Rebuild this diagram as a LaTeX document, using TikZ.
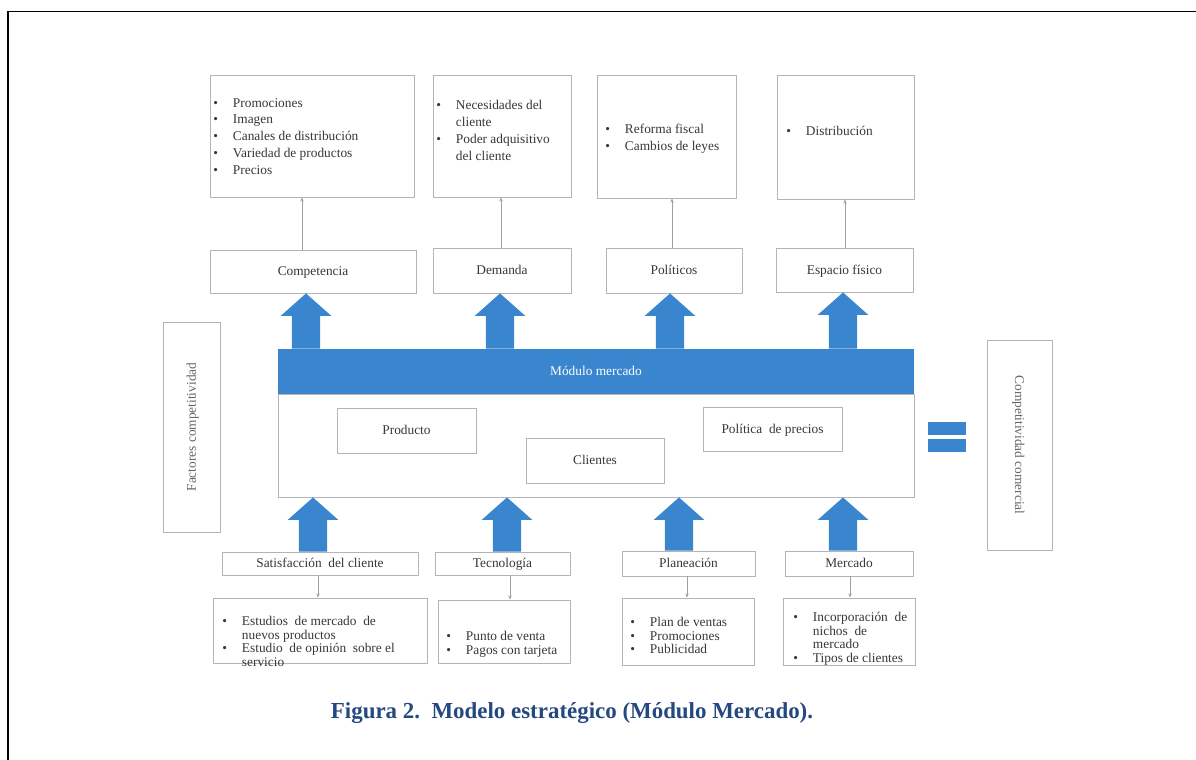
\documentclass[tikz,border=0pt]{standalone}
\usepackage{fontspec}
\setmainfont{Liberation Serif}
\usetikzlibrary{fit,calc,arrows.meta}
\definecolor{bblue}{RGB}{58,134,206}
\definecolor{capblue}{RGB}{36,72,128}
\definecolor{bord}{RGB}{180,180,180}
\definecolor{txt}{RGB}{55,55,55}
\newcommand\bl{\makebox[14pt][l]{\textbullet}}
\newcommand\ind{\hspace*{14pt}}
\newcommand\bigup[2]{%
  \fill[bblue] let \p1=(#1), \p2=(#2) in
    (\x1-10pt,\y1) -- (\x1-10pt,\y2-16pt) -- (\x1-18pt,\y2-16pt) -- (\x2,\y2)
    -- (\x1+18pt,\y2-16pt) -- (\x1+10pt,\y2-16pt) -- (\x1+10pt,\y1) -- cycle;}
\tikzset{
  box/.style={draw=bord, line width=0.6pt, inner sep=0pt, fill=white},
  lbl/.style={font=\fontsize{9.5}{12}\selectfont, text=txt, text height=7.5pt, text depth=1.3pt},
  lst/.style={font=\fontsize{9.5}{12}\selectfont, text=txt, align=left, anchor=north west, inner sep=0pt},
  lstb/.style={font=\fontsize{9.5}{9.6}\selectfont, text=txt, align=left, anchor=north west, inner sep=0pt},
  conn/.style={draw=gray!75, line width=0.5pt, -{Stealth[length=3pt,width=2.4pt]}},
  bluebox/.style={fill=bblue, inner sep=0pt}
}
\begin{document}
\begin{tikzpicture}[x=0.025cm,y=-0.025cm]
\useasboundingbox (0,0) rectangle (1196,760);
\draw[line width=1.4pt] (8,760) -- (8,11.5) -- (1196,11.5);

% top detail boxes
\node[box, fit={(210,75) (414,197)}] (t1) {};
\node[box, fit={(433,75) (571,197)}] (t2) {};
\node[box, fit={(597,75) (736,198)}] (t3) {};
\node[box, fit={(777,75) (914,199)}] (t4) {};
\node[lst] (l1) at (213,98) {\bl Promociones\\ \bl Imagen\\ \bl Canales de distribución\\ \bl Variedad de productos\\ \bl Precios};
\node[lst] (l2) at (436,100) {\bl Necesidades del\\ \ind cliente\\ \bl Poder adquisitivo\\ \ind del cliente};
\node[lst] (l3) at (605,124) {\bl Reforma fiscal\\ \bl Cambios de leyes};
\node[lst] (l4) at (786,126) {\bl Distribución};

% top category boxes
\node[box, fit={(210,250) (416,293)}, label={[lbl]center:Competencia}] (c1) {};
\node[box, fit={(433,248) (571,293)}, label={[lbl]center:Demanda}] (c2) {};
\node[box, fit={(606,248) (742,293)}, label={[lbl]center:Políticos}] (c3) {};
\node[box, fit={(776,248) (913,292)}, label={[lbl]center:Espacio físico}] (c4) {};

\coordinate (x1) at (302,0);
\coordinate (x2) at (501,0);
\coordinate (x3) at (672,0);
\coordinate (x4) at (845,0);
\draw[conn] (c1.north -| x1) -- (t1.south -| x1);
\draw[conn] (c2.north -| x2) -- (t2.south -| x2);
\draw[conn] (c3.north -| x3) -- (t3.south -| x3);
\draw[conn] (c4.north -| x4) -- (t4.south -| x4);

% module
\node[box, fit={(278,394) (914,497)}] (mod) {};
\node[bluebox, fit={(278,349) (914,394)}, label={[lbl, text=white]center:Módulo mercado}] (bar) {};
\node[box, fit={(337,408) (476,453)}, label={[lbl]center:Producto}] (prod) {};
\node[box, fit={(526,438) (664,483)}, label={[lbl]center:Clientes}] (cli) {};
\node[box, fit={(703,407) (842,451)}, label={[lbl]center:Política\ \ de precios}] (pol) {};

% top big arrows
\coordinate (a1) at (306,0);
\coordinate (a2) at (500,0);
\coordinate (a3) at (670,0);
\coordinate (a4) at (843,0);
\bigup{bar.north -| a1}{c1.south -| a1}
\bigup{bar.north -| a2}{c2.south -| a2}
\bigup{bar.north -| a3}{c3.south -| a3}
\bigup{bar.north -| a4}{c4.south -| a4}

% side boxes
\node[box, fit={(163,322) (220,532)}] (fac) {};
\node[lbl, rotate=90, text=gray!80!black] at (fac.center) {Factores competitividad};
\node[box, fit={(987,340) (1052,550)}] (com) {};
\node[lbl, rotate=-90, text=gray!80!black] at (com.center) {Competitividad comercial};
\node[bluebox, fit={(928,422) (966,435)}] (eq1) {};
\node[bluebox, fit={(928,439) (966,452)}] (eq2) {};

% bottom category boxes
\node[box, fit={(222,552) (418,575)}, label={[lbl]center:Satisfacción\ \ del cliente}] (s1) {};
\node[box, fit={(435,552) (570,575)}, label={[lbl]center:Tecnología}] (s2) {};
\node[box, fit={(622,551) (755,576)}, label={[lbl]center:Planeación}] (s3) {};
\node[box, fit={(785,551) (913,576)}, label={[lbl]center:Mercado}] (s4) {};

\coordinate (d1) at (313,0);
\coordinate (d2) at (507,0);
\coordinate (d3) at (679,0);
\coordinate (d4) at (843,0);
\bigup{s1.north -| d1}{mod.south -| d1}
\bigup{s2.north -| d2}{mod.south -| d2}
\bigup{s3.north -| d3}{mod.south -| d3}
\bigup{s4.north -| d4}{mod.south -| d4}

% bottom detail boxes
\node[box, fit={(213,598) (427,663)}] (b1) {};
\node[box, fit={(438,600) (570,663)}] (b2) {};
\node[box, fit={(622,598) (754,665)}] (b3) {};
\node[box, fit={(783,598) (915,665)}] (b4) {};
\node[lstb] (m1) at (222,616) {\bl Estudios\ \ de mercado\ \ de\\ \ind nuevos productos\\ \bl Estudio\ \ de opinión\ \ sobre el\\ \ind servicio};
\node[lstb] (m2) at (446,631) {\bl Punto de venta\\ \bl Pagos con tarjeta};
\node[lstb] (m3) at (630,617) {\bl Plan de ventas\\ \bl Promociones\\ \bl Publicidad};
\node[lstb] (m4) at (793,612) {\bl Incorporación\ \ de\\ \ind nichos\ \ de\\ \ind mercado\\ \bl Tipos de clientes};

\coordinate (e1) at (318,0);
\coordinate (e2) at (510,0);
\coordinate (e3) at (687,0);
\coordinate (e4) at (850,0);
\draw[conn] (s1.south -| e1) -- (b1.north -| e1);
\draw[conn] (s2.south -| e2) -- (b2.north -| e2);
\draw[conn] (s3.south -| e3) -- (b3.north -| e3);
\draw[conn] (s4.south -| e4) -- (b4.north -| e4);

% caption
\node[font=\bfseries\fontsize{16.3}{18}\selectfont, text=capblue] (cap) at (572,713) {Figura 2.\ \ Modelo estratégico (Módulo Mercado).};
\end{tikzpicture}
\end{document}
